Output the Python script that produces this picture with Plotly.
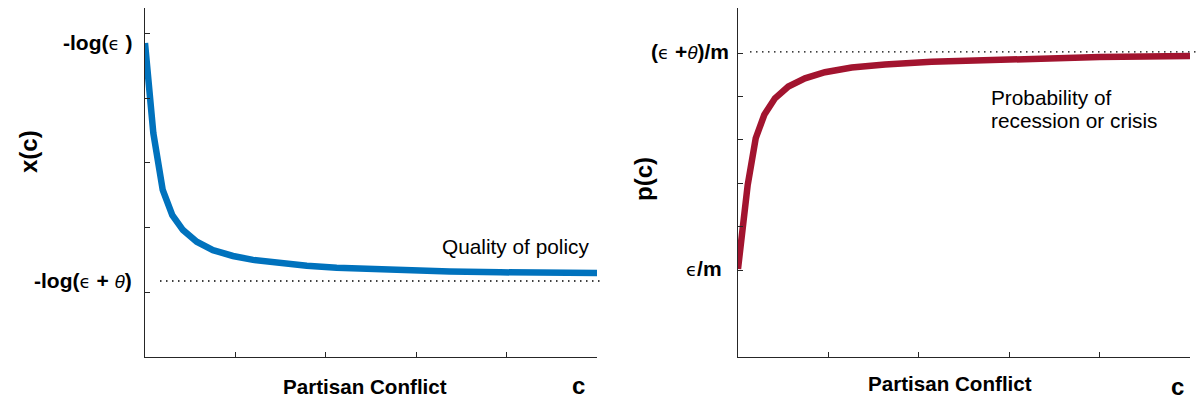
import plotly.graph_objects as go

# ---------------- data ----------------
# Left panel: quality of policy x(c) vs partisan conflict c
left_c = [0.0, 0.092, 0.196, 0.302, 0.42, 0.572, 0.752, 0.973, 1.195, 1.49, 1.79, 2.12, 2.82, 3.37, 3.93, 5.0]
left_x = [4.85, 3.46, 2.58, 2.19, 1.96, 1.78, 1.65, 1.56, 1.50, 1.447, 1.41, 1.38, 1.336, 1.32, 1.308, 1.297]
left_level_vals = [4.85, 1.174]
EPS = "<span style='font-size:18px;font-family:DejaVu Sans'>ϵ</span>"
TH = "<i><span style='font-size:19px'>θ</span></i>"
left_level_labels = ["<b>-log(</b>" + EPS + "<b> )</b>",
                     "<b>-log(</b>" + EPS + "<b> + </b>" + TH + "<b>)</b>"]
left_ticks = [1, 2, 3, 4, 5]

# Right panel: probability of recession p(c) vs partisan conflict c
right_c = [0.0, 0.048, 0.107, 0.196, 0.291, 0.409, 0.557, 0.741, 0.962, 1.258, 1.626, 2.14, 2.90, 4.0, 5.0]
right_p = [2.03, 3.04, 3.96, 5.04, 5.58, 5.96, 6.23, 6.42, 6.56, 6.67, 6.74, 6.80, 6.86, 6.91, 6.935]
right_level_vals = [7.03, 2.03]
right_level_labels = ["<b>(</b>" + EPS + "<b> +</b>" + TH + "<b>)/m</b>",
                      EPS + "<b>/m</b>"]
right_ticks = [2, 3, 4, 5, 6, 7]

x_ticks = [0, 1, 2, 3, 4, 5]

BLUE = "#0072BD"
RED = "#A2142F"
AX = "#262626"
FONT = "Liberation Sans, Arial, sans-serif"
W, H = 1199, 400

fig = go.Figure()
fig.add_trace(go.Scatter(x=left_c, y=left_x, mode="lines", line=dict(color=BLUE, width=6.5),
                         xaxis="x", yaxis="y", showlegend=False, hoverinfo="skip"))
fig.add_trace(go.Scatter(x=right_c, y=right_p, mode="lines", line=dict(color=RED, width=6.5),
                         xaxis="x2", yaxis="y2", showlegend=False, hoverinfo="skip"))

ydom = [(400 - 357) / H, (400 - 8) / H]
axis_common = dict(showline=True, linecolor=AX, linewidth=1.4, ticks="inside", ticklen=5,
                   tickwidth=1.3, tickcolor=AX, showticklabels=False, showgrid=False,
                   zeroline=False, mirror=False, fixedrange=True)

fig.update_layout(
    width=W, height=H, autosize=False,
    margin=dict(l=0, r=0, t=0, b=0),
    paper_bgcolor="white", plot_bgcolor="white",
    font=dict(family=FONT, color="#000000"),
    xaxis=dict(domain=[145 / W, 597 / W], range=[0, 5], tickvals=x_ticks, anchor="y", **axis_common),
    yaxis=dict(domain=ydom, range=[0, 5.39], tickvals=left_ticks, anchor="x", **axis_common),
    xaxis2=dict(domain=[738 / W, 1190 / W], range=[0, 5], tickvals=x_ticks, anchor="y2", **axis_common),
    yaxis2=dict(domain=ydom, range=[0, 8.04], tickvals=right_ticks, anchor="x2", **axis_common),
)

# dotted reference lines
fig.add_shape(type="line", xref="paper", yref="y", x0=160 / W, x1=600 / W,
              y0=left_level_vals[1], y1=left_level_vals[1],
              line=dict(color="#000000", width=1.3, dash="1.5px,4.5px"))
fig.add_shape(type="line", xref="paper", yref="y2", x0=750 / W, x1=1.0,
              y0=right_level_vals[0], y1=right_level_vals[0],
              line=dict(color="#000000", width=1.3, dash="1.5px,4.5px"))

ann = []
# level labels
for v, t in zip(left_level_vals, left_level_labels):
    ann.append(dict(xref="paper", yref="y", x=134 / W, y=v, text=t, showarrow=False,
                    xanchor="right", yanchor="middle", font=dict(size=21, family=FONT, color="#000")))
right_label_x = [731 / W, 724 / W]
for v, t, xx in zip(right_level_vals, right_level_labels, right_label_x):
    ann.append(dict(xref="paper", yref="y2", x=xx, y=v, text=t, showarrow=False,
                    xanchor="right", yanchor="middle", font=dict(size=21, family=FONT, color="#000")))

# axis titles
def paper_txt(px, py, text, size, angle=0, anchor="center"):
    return dict(xref="paper", yref="paper", x=px / W, y=(H - py) / H, text=text, showarrow=False,
                xanchor=anchor, yanchor="middle", textangle=angle,
                font=dict(size=size, family=FONT, color="#000"))

ann.append(paper_txt(365, 386, "<b>Partisan Conflict</b>", 20.6))
ann.append(paper_txt(578, 385, "<b>c</b>", 24))
ann.append(paper_txt(950, 383, "<b>Partisan Conflict</b>", 20.6))
ann.append(paper_txt(1177, 386, "<b>c</b>", 24))
ann.append(paper_txt(28, 152, "<b>x(c)</b>", 24, angle=-90))
ann.append(paper_txt(643, 179, "<b>p(c)</b>", 24, angle=-90))

# curve descriptions
ann.append(paper_txt(515, 246, "Quality of policy", 20.8))
ann.append(paper_txt(989, 97, "Probability of", 20.8, anchor="left"))
ann.append(paper_txt(989, 120, "recession or crisis", 20.8, anchor="left"))

fig.update_layout(annotations=ann)

fig.write_html("out.html", config={"displayModeBar": False},
               post_script="document.body.style.margin='0';document.body.style.padding='0';")
